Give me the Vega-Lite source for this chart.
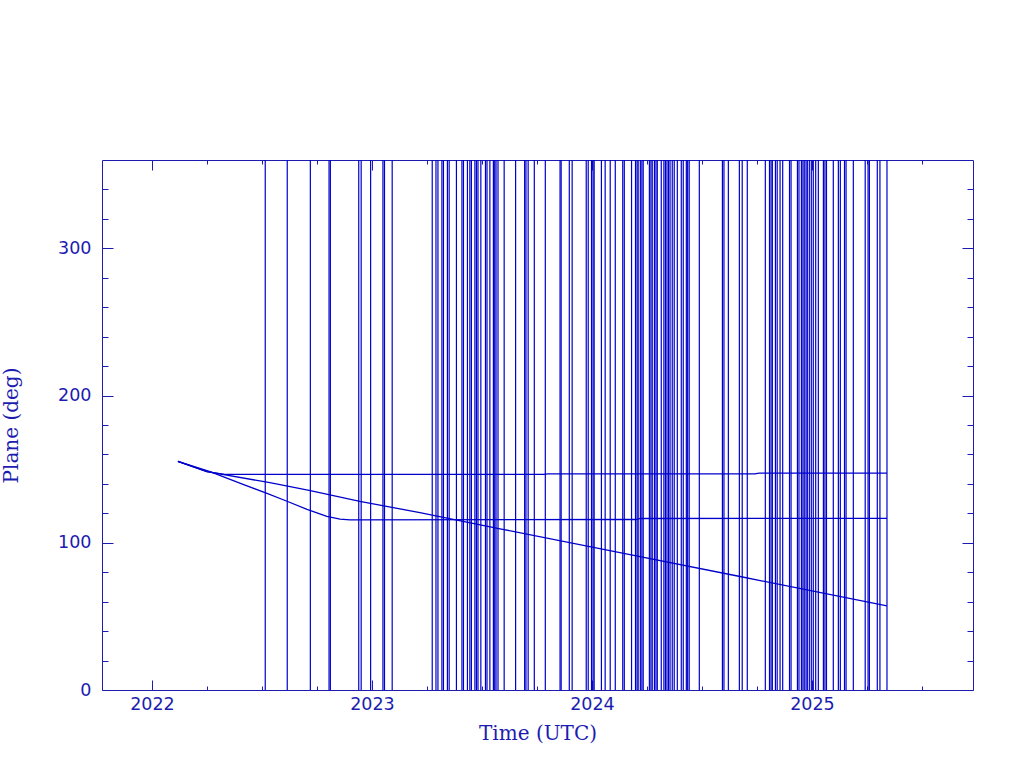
{
  "$schema": "https://vega.github.io/schema/vega-lite/v6.json",
  "width": 871,
  "height": 530,
  "autosize": {"type": "none"},
  "padding": {"left": 102, "top": 160, "right": 51, "bottom": 78},
  "background": "white",
  "config": {
    "view": {"stroke": "#1c1cb0", "strokeWidth": 1},
    "axis": {
      "grid": false,
      "domain": false,
      "tickColor": "#1c1cb0",
      "tickWidth": 1,
      "labelColor": "#1c1cb0",
      "titleColor": "#1c1cb0",
      "labelFont": "DejaVu Sans",
      "labelFontSize": 17.5,
      "titleFont": "DejaVu Serif",
      "titleFontSize": 20,
      "titleFontWeight": "normal"
    }
  },
  "datasets": {
    "vlines": [
      {"t": 2022.515}, {"t": 2022.615}, {"t": 2022.720}, {"t": 2022.805}, {"t": 2022.811},
      {"t": 2022.940}, {"t": 2022.951}, {"t": 2022.994}, {"t": 2023.050}, {"t": 2023.057},
      {"t": 2023.092}, {"t": 2023.274}, {"t": 2023.291}, {"t": 2023.300}, {"t": 2023.318},
      {"t": 2023.325}, {"t": 2023.343}, {"t": 2023.351}, {"t": 2023.384}, {"t": 2023.409},
      {"t": 2023.416}, {"t": 2023.434}, {"t": 2023.445}, {"t": 2023.452}, {"t": 2023.468},
      {"t": 2023.475}, {"t": 2023.482}, {"t": 2023.495}, {"t": 2023.516}, {"t": 2023.523},
      {"t": 2023.536}, {"t": 2023.552}, {"t": 2023.558}, {"t": 2023.564}, {"t": 2023.573},
      {"t": 2023.601}, {"t": 2023.653}, {"t": 2023.694}, {"t": 2023.700}, {"t": 2023.710},
      {"t": 2023.738}, {"t": 2023.788}, {"t": 2023.855}, {"t": 2023.860}, {"t": 2023.897},
      {"t": 2023.910}, {"t": 2023.974}, {"t": 2023.983}, {"t": 2023.998}, {"t": 2024.005},
      {"t": 2024.010}, {"t": 2024.043}, {"t": 2024.060}, {"t": 2024.083}, {"t": 2024.106},
      {"t": 2024.140}, {"t": 2024.147}, {"t": 2024.180}, {"t": 2024.198}, {"t": 2024.205},
      {"t": 2024.210}, {"t": 2024.220}, {"t": 2024.227}, {"t": 2024.233}, {"t": 2024.261},
      {"t": 2024.268}, {"t": 2024.274}, {"t": 2024.284}, {"t": 2024.291}, {"t": 2024.297},
      {"t": 2024.315}, {"t": 2024.327}, {"t": 2024.334}, {"t": 2024.341}, {"t": 2024.348},
      {"t": 2024.355}, {"t": 2024.365}, {"t": 2024.374}, {"t": 2024.388}, {"t": 2024.406},
      {"t": 2024.415}, {"t": 2024.429}, {"t": 2024.435}, {"t": 2024.442}, {"t": 2024.488},
      {"t": 2024.593}, {"t": 2024.600}, {"t": 2024.620}, {"t": 2024.670}, {"t": 2024.683},
      {"t": 2024.706}, {"t": 2024.788}, {"t": 2024.807}, {"t": 2024.814}, {"t": 2024.820},
      {"t": 2024.834}, {"t": 2024.842}, {"t": 2024.855}, {"t": 2024.867}, {"t": 2024.898},
      {"t": 2024.905}, {"t": 2024.934}, {"t": 2024.941}, {"t": 2024.952}, {"t": 2024.959},
      {"t": 2024.965}, {"t": 2024.973}, {"t": 2024.979}, {"t": 2024.988}, {"t": 2024.997},
      {"t": 2025.006}, {"t": 2025.017}, {"t": 2025.029}, {"t": 2025.052}, {"t": 2025.059},
      {"t": 2025.066}, {"t": 2025.097}, {"t": 2025.120}, {"t": 2025.129}, {"t": 2025.148},
      {"t": 2025.155}, {"t": 2025.188}, {"t": 2025.242}, {"t": 2025.255}, {"t": 2025.261},
      {"t": 2025.297}, {"t": 2025.309}, {"t": 2025.341}
    ],
    "series": [
      {"s": "a", "t": 2022.118, "plane": 155.3},
      {"s": "a", "t": 2022.250, "plane": 148.3},
      {"s": "a", "t": 2022.330, "plane": 146.4},
      {"s": "a", "t": 2023.780, "plane": 146.4},
      {"s": "a", "t": 2023.800, "plane": 146.8},
      {"s": "a", "t": 2024.740, "plane": 146.8},
      {"s": "a", "t": 2024.760, "plane": 147.3},
      {"s": "a", "t": 2025.341, "plane": 147.3},
      {"s": "b", "t": 2022.118, "plane": 155.3},
      {"s": "b", "t": 2022.250, "plane": 148.3},
      {"s": "b", "t": 2022.536, "plane": 140.8},
      {"s": "b", "t": 2022.720, "plane": 135.4},
      {"s": "b", "t": 2022.945, "plane": 128.1},
      {"s": "b", "t": 2023.218, "plane": 120.5},
      {"s": "b", "t": 2023.582, "plane": 109.5},
      {"s": "b", "t": 2024.127, "plane": 93.3},
      {"s": "b", "t": 2024.673, "plane": 77.1},
      {"s": "b", "t": 2025.341, "plane": 57.1},
      {"s": "c", "t": 2022.118, "plane": 155.3},
      {"s": "c", "t": 2022.264, "plane": 148.3},
      {"s": "c", "t": 2022.414, "plane": 139.7},
      {"s": "c", "t": 2022.523, "plane": 133.6},
      {"s": "c", "t": 2022.614, "plane": 128.2},
      {"s": "c", "t": 2022.705, "plane": 122.7},
      {"s": "c", "t": 2022.795, "plane": 117.9},
      {"s": "c", "t": 2022.855, "plane": 116.1},
      {"s": "c", "t": 2022.900, "plane": 115.6},
      {"s": "c", "t": 2024.200, "plane": 115.8},
      {"s": "c", "t": 2024.220, "plane": 116.5},
      {"s": "c", "t": 2025.341, "plane": 116.6}
    ]
  },
  "layer": [
    {
      "data": {"name": "vlines"},
      "mark": {"type": "rule", "color": "#0000cc", "strokeWidth": 1.2},
      "encoding": {
        "x": {
          "field": "t", "type": "quantitative",
          "scale": {"domain": [2021.773, 2025.732], "nice": false, "zero": false},
          "axis": {"orient": "bottom", "values": [2022, 2023, 2024, 2025], "format": "d", "ticks": false, "labelPadding": 5, "title": "Time (UTC)", "titlePadding": 11}
        },
        "y": {
          "datum": 0, "type": "quantitative",
          "scale": {"domain": [0, 360], "nice": false, "zero": false},
          "axis": {"orient": "left", "values": [0, 100, 200, 300], "ticks": false, "labelPadding": 11, "title": "Plane (deg)", "titlePadding": 36}
        },
        "y2": {"datum": 360}
      }
    },
    {
      "data": {"name": "series"},
      "mark": {"type": "line", "color": "#0000cc", "strokeWidth": 1.3},
      "encoding": {
        "x": {
          "field": "t", "type": "quantitative",
          "scale": {"domain": [2021.773, 2025.732], "nice": false, "zero": false},
          "axis": {"orient": "bottom", "values": [2022, 2023, 2024, 2025], "labels": false, "tickSize": -10, "title": null}
        },
        "y": {
          "field": "plane", "type": "quantitative",
          "scale": {"domain": [0, 360], "nice": false, "zero": false},
          "axis": {"orient": "left", "values": [0, 100, 200, 300], "labels": false, "tickSize": -11, "title": null}
        },
        "detail": {"field": "s"}
      }
    },
    {
      "data": {"name": "series"},
      "mark": {"type": "point", "opacity": 0},
      "encoding": {
        "x": {
          "field": "t", "type": "quantitative",
          "scale": {"domain": [2021.773, 2025.732], "nice": false, "zero": false},
          "axis": {"orient": "top", "values": [2022, 2023, 2024, 2025], "labels": false, "tickSize": -10, "title": null}
        },
        "y": {
          "field": "plane", "type": "quantitative",
          "scale": {"domain": [0, 360], "nice": false, "zero": false},
          "axis": {"orient": "right", "values": [0, 100, 200, 300], "labels": false, "tickSize": -11, "title": null}
        }
      }
    },
    {
      "data": {"name": "series"},
      "mark": {"type": "point", "opacity": 0},
      "encoding": {
        "x": {
          "field": "t", "type": "quantitative",
          "scale": {"domain": [2021.773, 2025.732], "nice": false, "zero": false},
          "axis": {"orient": "bottom", "values": [2022.25, 2022.5, 2022.75, 2023.25, 2023.5, 2023.75, 2024.25, 2024.5, 2024.75, 2025.25, 2025.5], "labels": false, "tickSize": -4, "title": null}
        },
        "y": {
          "field": "plane", "type": "quantitative",
          "scale": {"domain": [0, 360], "nice": false, "zero": false},
          "axis": {"orient": "left", "values": [20, 40, 60, 80, 120, 140, 160, 180, 220, 240, 260, 280, 320, 340], "labels": false, "tickSize": -6, "title": null}
        }
      }
    },
    {
      "data": {"name": "series"},
      "mark": {"type": "point", "opacity": 0},
      "encoding": {
        "x": {
          "field": "t", "type": "quantitative",
          "scale": {"domain": [2021.773, 2025.732], "nice": false, "zero": false},
          "axis": {"orient": "top", "values": [2022.25, 2022.5, 2022.75, 2023.25, 2023.5, 2023.75, 2024.25, 2024.5, 2024.75, 2025.25, 2025.5], "labels": false, "tickSize": -4, "title": null}
        },
        "y": {
          "field": "plane", "type": "quantitative",
          "scale": {"domain": [0, 360], "nice": false, "zero": false},
          "axis": {"orient": "right", "values": [20, 40, 60, 80, 120, 140, 160, 180, 220, 240, 260, 280, 320, 340], "labels": false, "tickSize": -6, "title": null}
        }
      }
    }
  ],
  "resolve": {"axis": {"x": "independent", "y": "independent"}}
}
